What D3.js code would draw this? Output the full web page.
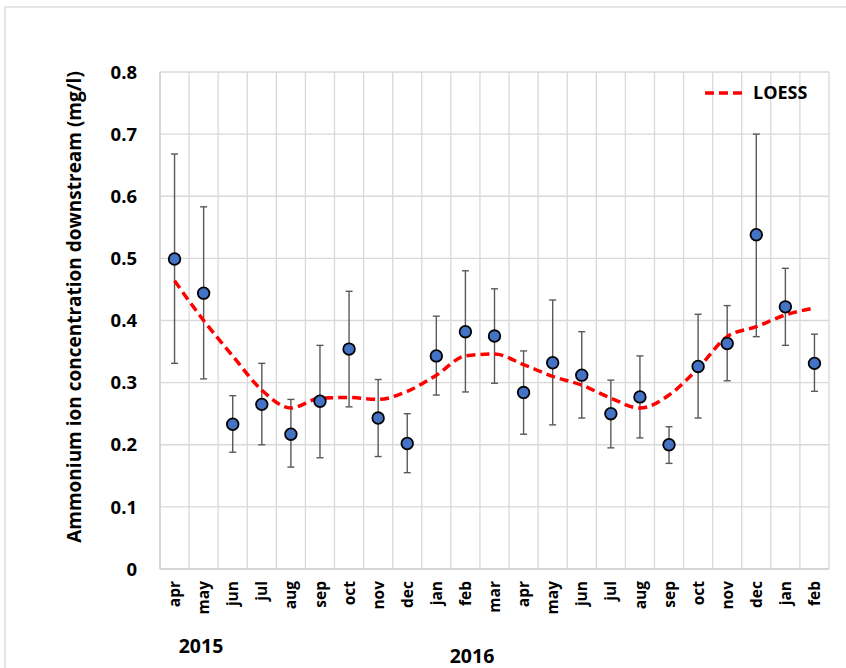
<!DOCTYPE html>
<html>
<head>
<meta charset="utf-8">
<script src="https://cdn.jsdelivr.net/npm/d3@7"></script>
<style>
  html, body { margin: 0; padding: 0; background: #fff; }
  svg { display: block; font-family: "Open Sans", Lato, sans-serif; }
</style>
</head>
<body>
<svg id="chart" width="846" height="668"></svg>
<script>
const months = ["apr","may","jun","jul","aug","sep","oct","nov","dec","jan","feb","mar","apr","may","jun","jul","aug","sep","oct","nov","dec","jan","feb"];
const values = [0.499,0.444,0.233,0.265,0.217,0.270,0.354,0.243,0.202,0.343,0.382,0.375,0.284,0.332,0.312,0.250,0.277,0.200,0.326,0.363,0.538,0.422,0.331];
const errUpper = [0.668,0.583,0.279,0.331,0.273,0.360,0.447,0.305,0.250,0.407,0.480,0.451,0.351,0.433,0.382,0.304,0.343,0.229,0.410,0.424,0.700,0.484,0.378];
const errLower = [0.331,0.306,0.188,0.200,0.164,0.179,0.261,0.181,0.155,0.280,0.285,0.299,0.217,0.232,0.243,0.195,0.211,0.170,0.243,0.303,0.374,0.360,0.286];
const loess = [0.464,0.400,0.343,0.288,0.259,0.275,0.276,0.273,0.286,0.312,0.343,0.346,0.329,0.310,0.296,0.275,0.259,0.280,0.323,0.374,0.390,0.409,0.420];
const yTicks = [0,0.1,0.2,0.3,0.4,0.5,0.6,0.7,0.8];
const yearLabels = ["2015","2016"];
const yTitle = "Ammonium ion concentration downstream (mg/l)";
const legendLabel = "LOESS";

const svg = d3.select("#chart");
const L = 160, R = 829, T = 72, B = 569;

// outer chart border
svg.append("rect").attr("x", 5).attr("y", 7).attr("width", 860).attr("height", 700)
  .attr("fill", "none").attr("stroke", "#d9d9d9").attr("stroke-width", 1.3);

const x = d3.scaleBand().domain(d3.range(months.length)).range([L, R]).padding(0);
const y = d3.scaleLinear().domain([0, 0.8]).range([B, T]);
const cx = i => x(i) + x.bandwidth() / 2;

// horizontal grid
svg.append("g").selectAll("line").data(yTicks).join("line")
  .attr("x1", L).attr("x2", R).attr("y1", d => y(d)).attr("y2", d => y(d))
  .attr("stroke", "#d9d9d9").attr("stroke-width", 1.3);
// vertical grid
svg.append("g").selectAll("line").data(d3.range(months.length + 1)).join("line")
  .attr("x1", i => L + i * x.bandwidth()).attr("x2", i => L + i * x.bandwidth())
  .attr("y1", T).attr("y2", B)
  .attr("stroke", "#d9d9d9").attr("stroke-width", 1.3);
// axis lines
svg.append("line").attr("x1", L).attr("x2", R).attr("y1", B).attr("y2", B)
  .attr("stroke", "#d0d0d0").attr("stroke-width", 1.5);
svg.append("line").attr("x1", L).attr("x2", L).attr("y1", T).attr("y2", B)
  .attr("stroke", "#d0d0d0").attr("stroke-width", 1.5);

// y tick labels
svg.append("g").selectAll("text").data(yTicks).join("text")
  .attr("x", 137).attr("y", d => y(d)).attr("dy", "0.36em")
  .attr("text-anchor", "end").attr("font-size", 18.5).attr("font-weight", "bold")
  .attr("fill", "#000").text(d => d === 0 ? "0" : d.toFixed(1));

// x tick labels
svg.append("g").selectAll("text").data(months).join("text")
  .attr("transform", (d, i) => `translate(${cx(i)},581) rotate(-90)`)
  .attr("dy", "0.36em").attr("text-anchor", "end")
  .attr("font-size", 15.5).attr("font-weight", "bold").attr("fill", "#000")
  .text(d => d);

// year labels
svg.append("text").attr("x", 201).attr("y", 653).attr("text-anchor", "middle")
  .attr("font-size", 19.5).attr("font-weight", "bold").text(yearLabels[0]);
svg.append("text").attr("x", 472).attr("y", 663).attr("text-anchor", "middle")
  .attr("font-size", 19.5).attr("font-weight", "bold").text(yearLabels[1]);

// y title
svg.append("text").attr("transform", "translate(81,307) rotate(-90)")
  .attr("text-anchor", "middle").attr("font-size", 19).attr("font-weight", "bold")
  .text(yTitle);

// error bars
const eb = svg.append("g").attr("stroke", "#595959").attr("stroke-width", 1.4);
values.forEach((v, i) => {
  eb.append("line").attr("x1", cx(i)).attr("x2", cx(i)).attr("y1", y(errUpper[i])).attr("y2", y(errLower[i]));
  eb.append("line").attr("x1", cx(i) - 3.5).attr("x2", cx(i) + 3.5).attr("y1", y(errUpper[i])).attr("y2", y(errUpper[i]));
  eb.append("line").attr("x1", cx(i) - 3.5).attr("x2", cx(i) + 3.5).attr("y1", y(errLower[i])).attr("y2", y(errLower[i]));
});

// LOESS line
const line = d3.line().x((d, i) => cx(i)).y(d => y(d)).curve(d3.curveMonotoneX);
svg.append("path").datum(loess).attr("d", line)
  .attr("fill", "none").attr("stroke", "#ff0000").attr("stroke-width", 3.5)
  .attr("stroke-dasharray", "9,5");

// points
svg.append("g").selectAll("circle").data(values).join("circle")
  .attr("cx", (d, i) => cx(i)).attr("cy", d => y(d)).attr("r", 5.8)
  .attr("fill", "#4472c4").attr("stroke", "#000").attr("stroke-width", 1.8);

// legend
svg.append("line").attr("x1", 705).attr("x2", 746).attr("y1", 93).attr("y2", 93)
  .attr("stroke", "#ff0000").attr("stroke-width", 3.5).attr("stroke-dasharray", "9,5");
svg.append("text").attr("x", 753).attr("y", 93).attr("dy", "0.36em")
  .attr("font-size", 18).attr("font-weight", "bold").text(legendLabel);
</script>
</body>
</html>
